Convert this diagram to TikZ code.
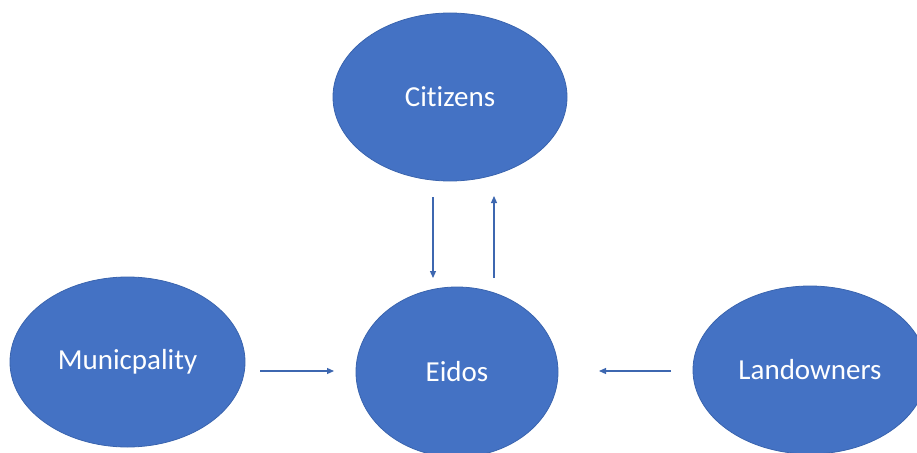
\documentclass[tikz,border=0pt]{standalone}
\usepackage{fontspec}
\setmainfont[Ligatures={NoCommon}]{Carlito}
\usetikzlibrary{shapes.geometric,arrows.meta}
\definecolor{ofblue}{HTML}{4472C4}
\definecolor{ofedge}{HTML}{3A64AE}
\tikzset{
  actor/.style={ellipse, fill=ofblue, draw=ofedge, line width=0.8pt, inner sep=0pt,
    text=white, font=\fontsize{29}{33}\selectfont},
  flow/.style={draw=ofblue!90!black, line width=1.2pt, -{Triangle[length=7pt,width=6pt]}}
}
\begin{document}
\begin{tikzpicture}[x=1pt,y=-1pt]
\useasboundingbox (0,0) rectangle (917,452);
\clip (0,0) rectangle (917,452);
\node[actor, minimum width=234pt, minimum height=168pt] (cit) at (450,97) {Citizens};
\node[actor, minimum width=235pt, minimum height=170pt] (mun) at (127.5,362) {Municpality};
\node[actor, minimum width=202pt, minimum height=170pt] (eid) at (457,372) {Eidos};
\node[actor, minimum width=234pt, minimum height=168pt] (lan) at (810,370) {Landowners};
\coordinate (c1) at (433,197);
\coordinate (e1) at (433,278);
\coordinate (e2) at (494,278);
\coordinate (c2) at (494,196);
\coordinate (m1) at (260,371);
\coordinate (m2) at (334,371);
\coordinate (l1) at (671,371);
\coordinate (l2) at (599,371);
\draw[flow] (c1) -- (e1);
\draw[flow] (e2) -- (c2);
\draw[flow] (m1) -- (m2);
\draw[flow] (l1) -- (l2);
\end{tikzpicture}
\end{document}
